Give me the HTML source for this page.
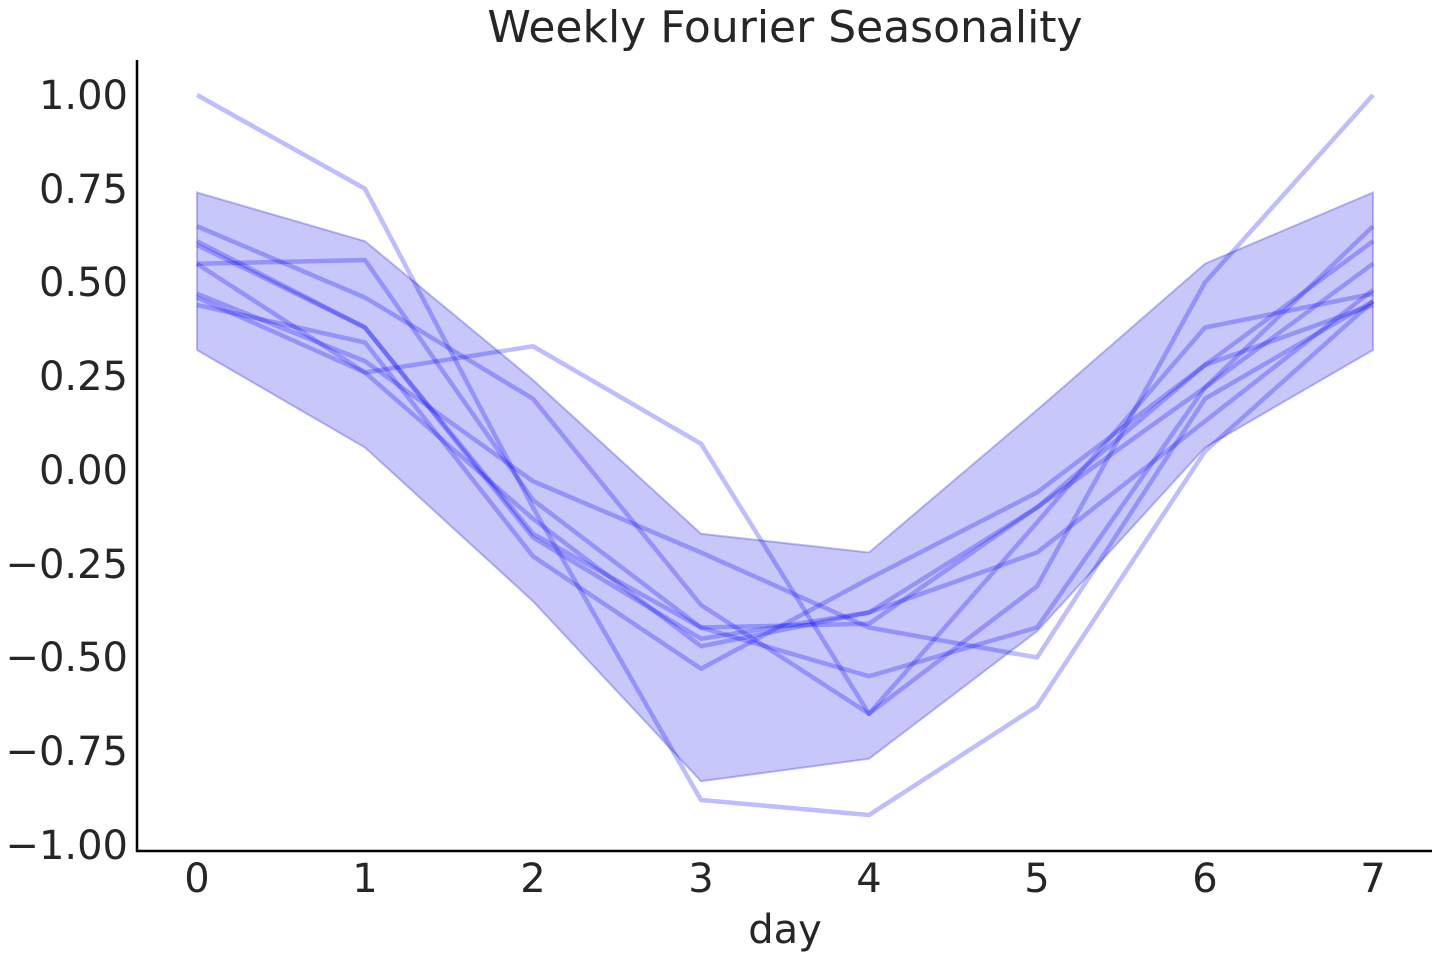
<!DOCTYPE html>
<html><head><meta charset="utf-8"><style>
body{margin:0;background:#fff;}
svg text{font-family:"DejaVu Sans","Liberation Sans",sans-serif;fill:#262626;}
</style></head><body>
<svg width="1440" height="960" viewBox="0 0 1440 960" xmlns="http://www.w3.org/2000/svg">
<script type="text/javascript"></script>
<g id="plot"></g>
<text x="785" y="42" font-size="44" text-anchor="middle">Weekly Fourier Seasonality</text>
<g font-size="40" text-anchor="end">
<text x="128" y="109">1.00</text>
<text x="128" y="203">0.75</text>
<text x="128" y="296">0.50</text>
<text x="128" y="390">0.25</text>
<text x="128" y="484">0.00</text>
<text x="128" y="578">−0.25</text>
<text x="128" y="671">−0.50</text>
<text x="128" y="765">−0.75</text>
<text x="128" y="859">−1.00</text>
</g>
<g font-size="40" text-anchor="middle">
<text x="197" y="892">0</text><text x="365" y="892">1</text><text x="533" y="892">2</text><text x="701" y="892">3</text>
<text x="869" y="892">4</text><text x="1037" y="892">5</text><text x="1205" y="892">6</text><text x="1373" y="892">7</text>
<text x="785" y="943">day</text>
</g>
<g id="data"></g>
<path d="M137 60 V851 H1432" fill="none" stroke="#000" stroke-width="2.5"/>
</svg>
<script>
const X=i=>197+168*i, Y=v=>470-375*v;
const up=[0.74,0.61,0.24,-0.17,-0.22,0.16,0.55,0.74], lo=[0.32,0.06,-0.35,-0.83,-0.77,-0.43,0.06,0.32];
const lines=[
[1.0,0.75,-0.1,-0.88,-0.92,-0.63,0.05,0.45],
[0.55,0.26,0.33,0.07,-0.65,-0.31,0.5,1.0],
[0.65,0.46,0.19,-0.36,-0.65,-0.14,0.38,0.47],
[0.61,0.38,-0.17,-0.42,-0.41,-0.1,0.28,0.61],
[0.6,0.38,-0.18,-0.45,-0.38,-0.1,0.22,0.55],
[0.47,0.29,-0.03,-0.22,-0.42,-0.5,0.19,0.45],
[0.46,0.26,-0.13,-0.47,-0.38,-0.22,0.13,0.48],
[0.44,0.34,-0.23,-0.53,-0.29,-0.06,0.28,0.44],
[0.55,0.56,-0.08,-0.42,-0.55,-0.42,0.22,0.65]];
let s='';
let d='M'+up.map((v,i)=>X(i)+' '+Y(v)).join(' L')+' L'+lo.map((v,i)=>X(i)+' '+Y(v)).reverse().join(' L')+'Z';
s+=`<path d="${d}" fill="rgba(0,0,230,0.22)" stroke="rgba(0,0,230,0.25)" stroke-width="2"/>`;
for(const l of lines){s+=`<polyline points="${l.map((v,i)=>X(i)+','+Y(v)).join(' ')}" fill="none" stroke="rgba(0,0,255,0.26)" stroke-width="4.5" stroke-linejoin="round"/>`;}
document.getElementById('data').innerHTML=s;
</script>
</body></html>
